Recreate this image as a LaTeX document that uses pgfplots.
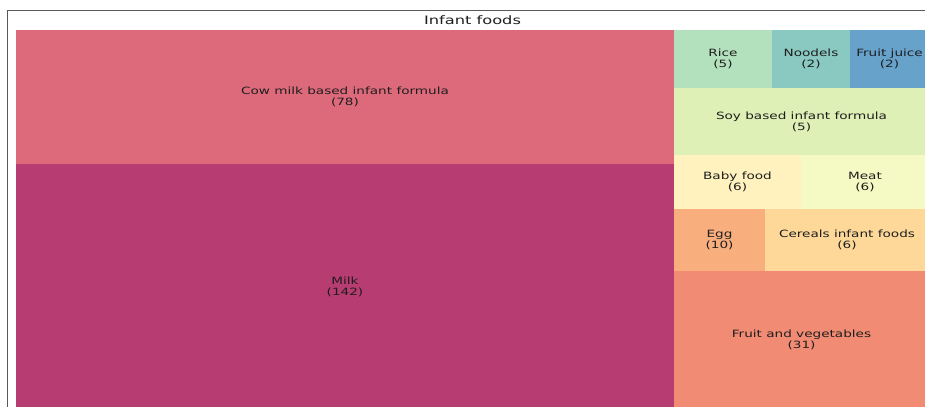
\documentclass[border=0pt]{standalone}
\usepackage{pgfplots}
\pgfplotsset{compat=1.18}
\usepackage{fontspec}
\setmainfont{DejaVu Sans}
\definecolor{cmilk}{RGB}{183,60,113}
\definecolor{ccow}{RGB}{221,106,123}
\definecolor{cfv}{RGB}{242,139,115}
\definecolor{cegg}{RGB}{249,174,125}
\definecolor{ccer}{RGB}{254,216,152}
\definecolor{cbaby}{RGB}{255,242,190}
\definecolor{cmeat}{RGB}{245,249,195}
\definecolor{csoy}{RGB}{222,240,182}
\definecolor{crice}{RGB}{179,224,189}
\definecolor{cnood}{RGB}{137,201,193}
\definecolor{cjuice}{RGB}{103,162,203}
\definecolor{txt}{RGB}{30,30,30}
\newcommand{\lab}[2]{\scalebox{1.36}[1]{#1}\\\scalebox{1.36}[1]{(#2)}}
\begin{document}
\begin{tikzpicture}
\begin{axis}[
  scale only axis, width=693.75pt, height=305.25pt,
  xmin=0, xmax=925, ymin=0, ymax=407, y dir=reverse,
  axis lines=none, clip=true,
]
% background
\addplot[fill=white, draw=none] coordinates {(0,0) (925,0) (925,407) (0,407)} -- cycle;
% frame
\addplot[color=black!65, line width=1.1pt] coordinates {(7.5,420) (7.5,10.5) (940,10.5)};
% rectangles (pixel coordinates of the treemap)
\addplot[fill=ccow, draw=none]   coordinates {(16,30) (674,30) (674,164) (16,164)} -- cycle;
\addplot[fill=cmilk, draw=none]  coordinates {(16,164) (674,164) (674,409) (16,409)} -- cycle;
\addplot[fill=crice, draw=none]  coordinates {(674,30) (772,30) (772,88) (674,88)} -- cycle;
\addplot[fill=cnood, draw=none]  coordinates {(772,30) (850,30) (850,88) (772,88)} -- cycle;
\addplot[fill=cjuice, draw=none] coordinates {(850,30) (929,30) (929,88) (850,88)} -- cycle;
\addplot[fill=csoy, draw=none]   coordinates {(674,88) (929,88) (929,155) (674,155)} -- cycle;
\addplot[fill=cbaby, draw=none]  coordinates {(674,155) (801,155) (801,209) (674,209)} -- cycle;
\addplot[fill=cmeat, draw=none]  coordinates {(801,155) (929,155) (929,209) (801,209)} -- cycle;
\addplot[fill=cegg, draw=none]   coordinates {(674,209) (765,209) (765,271) (674,271)} -- cycle;
\addplot[fill=ccer, draw=none]   coordinates {(765,209) (929,209) (929,271) (765,271)} -- cycle;
\addplot[fill=cfv, draw=none]    coordinates {(674,271) (929,271) (929,409) (674,409)} -- cycle;
% labels
\tikzset{lbl/.style={align=center, text=txt, inner sep=0pt, font=\fontsize{7.5}{8.1}\selectfont}}
\node[text=txt, font=\fontsize{8.7}{10}\selectfont] at (axis cs:472.5,20.5) {\scalebox{1.4}[1]{Infant foods}};
\node[lbl] at (axis cs:345,97)    {\lab{Cow milk based infant formula}{78}};
\node[lbl] at (axis cs:345,286.5) {\lab{Milk}{142}};
\node[lbl] at (axis cs:723,59)    {\lab{Rice}{5}};
\node[lbl] at (axis cs:811,59)    {\lab{Noodels}{2}};
\node[lbl] at (axis cs:889.5,59)  {\lab{Fruit juice}{2}};
\node[lbl] at (axis cs:801.5,121.5) {\lab{Soy based infant formula}{5}};
\node[lbl] at (axis cs:737.5,182) {\lab{Baby food}{6}};
\node[lbl] at (axis cs:865,182)   {\lab{Meat}{6}};
\node[lbl] at (axis cs:719.5,240) {\lab{Egg}{10}};
\node[lbl] at (axis cs:847,240)   {\lab{Cereals infant foods}{6}};
\node[lbl] at (axis cs:801.5,340) {\lab{Fruit and vegetables}{31}};
\end{axis}
\end{tikzpicture}
\end{document}
